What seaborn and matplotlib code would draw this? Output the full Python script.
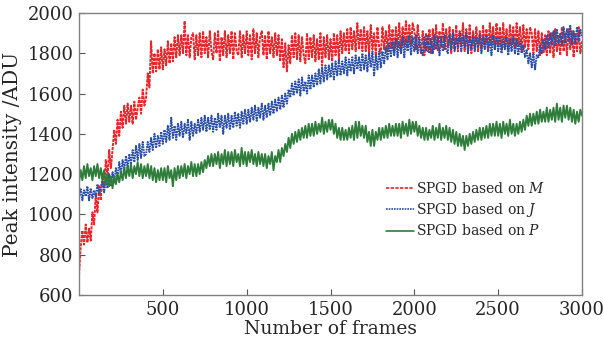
import numpy as np
import pandas as pd
import matplotlib
matplotlib.use("Agg")
import matplotlib.pyplot as plt
import seaborn as sns

frames = list(range(0, 3001, 10))

peak_M = [700, 840, 920, 850, 950, 860, 930, 870, 1010, 950,
          1100, 1010, 1140, 1070, 1200, 1130, 1270, 1180, 1320, 1230,
          1320, 1420, 1350, 1470, 1390, 1510, 1430, 1540, 1450, 1550,
          1460, 1540, 1450, 1560, 1470, 1530, 1580, 1500, 1620, 1540,
          1580, 1700, 1630, 1860, 1700, 1800, 1710, 1820, 1720, 1830,
          1720, 1820, 1740, 1860, 1750, 1850, 1760, 1880, 1780, 1890,
          1790, 1890, 1800, 1960, 1790, 1890, 1780, 1880, 1900, 1770,
          1890, 1790, 1900, 1780, 1910, 1800, 1880, 1780, 1910, 1810,
          1770, 1900, 1800, 1910, 1760, 1880, 1790, 1910, 1780, 1890,
          1800, 1910, 1770, 1900, 1810, 1790, 1910, 1780, 1890, 1800,
          1910, 1790, 1890, 1770, 1920, 1800, 1900, 1780, 1880, 1910,
          1790, 1890, 1770, 1910, 1800, 1880, 1780, 1900, 1790, 1890,
          1760, 1870, 1730, 1850, 1710, 1840, 1750, 1890, 1780, 1900,
          1770, 1890, 1760, 1880, 1790, 1750, 1900, 1770, 1880, 1780,
          1890, 1760, 1870, 1770, 1900, 1740, 1880, 1780, 1890, 1770,
          1870, 1760, 1900, 1790, 1890, 1770, 1910, 1800, 1900, 1810,
          1920, 1800, 1930, 1820, 1910, 1810, 1950, 1820, 1920, 1810,
          1930, 1810, 1910, 1800, 1940, 1820, 1900, 1790, 1930, 1830,
          1800, 1930, 1820, 1910, 1810, 1940, 1830, 1920, 1800, 1930,
          1830, 1950, 1820, 1930, 1840, 1960, 1830, 1940, 1840, 1950,
          1910, 1820, 1940, 1840, 1800, 1910, 1790, 1900, 1810, 1920,
          1800, 1920, 1820, 1940, 1810, 1910, 1830, 1950, 1820, 1920,
          1830, 1930, 1800, 1920, 1820, 1940, 1810, 1910, 1840, 1950,
          1810, 1920, 1820, 1940, 1800, 1910, 1830, 1930, 1810, 1910,
          1820, 1940, 1830, 1920, 1810, 1950, 1840, 1930, 1820, 1950,
          1840, 1930, 1820, 1950, 1830, 1920, 1810, 1940, 1840, 1930,
          1820, 1950, 1840, 1930, 1810, 1940, 1830, 1920, 1820, 1930,
          1900, 1800, 1920, 1810, 1910, 1790, 1900, 1800, 1890, 1790,
          1910, 1800, 1900, 1780, 1920, 1810, 1890, 1790, 1930, 1810,
          1900, 1790, 1920, 1820, 1910, 1780, 1900, 1810, 1930, 1800,
          1860]

peak_J = [1080, 1130, 1070, 1120, 1090, 1140, 1070, 1130, 1080, 1120,
          1090, 1150, 1100, 1140, 1160, 1110, 1180, 1130, 1200, 1140,
          1210, 1160, 1230, 1180, 1260, 1200, 1270, 1220, 1290, 1230,
          1300, 1250, 1320, 1260, 1340, 1270, 1350, 1280, 1360, 1290,
          1300, 1360, 1310, 1380, 1320, 1400, 1330, 1390, 1340, 1410,
          1350, 1420, 1360, 1440, 1370, 1480, 1380, 1440, 1370, 1450,
          1390, 1460, 1380, 1450, 1400, 1470, 1370, 1460, 1390, 1450,
          1400, 1470, 1410, 1480, 1420, 1490, 1410, 1480, 1420, 1490,
          1410, 1480, 1420, 1500, 1430, 1490, 1400, 1490, 1430, 1500,
          1420, 1490, 1430, 1510, 1440, 1500, 1430, 1510, 1450, 1520,
          1450, 1520, 1460, 1530, 1470, 1540, 1460, 1530, 1480, 1550,
          1470, 1540, 1480, 1550, 1490, 1560, 1500, 1570, 1510, 1580,
          1520, 1590, 1530, 1600, 1550, 1620, 1580, 1650, 1590, 1660,
          1600, 1670, 1590, 1680, 1610, 1660, 1600, 1690, 1620, 1690,
          1630, 1700, 1640, 1720, 1650, 1730, 1660, 1740, 1670, 1740,
          1680, 1750, 1670, 1760, 1690, 1770, 1690, 1760, 1700, 1780,
          1690, 1770, 1710, 1780, 1700, 1790, 1720, 1780, 1710, 1800,
          1720, 1790, 1710, 1800, 1730, 1810, 1690, 1790, 1720, 1810,
          1730, 1810, 1750, 1830, 1770, 1850, 1780, 1860, 1790, 1870,
          1780, 1860, 1800, 1880, 1780, 1870, 1810, 1890, 1790, 1880,
          1810, 1890, 1800, 1880, 1820, 1790, 1880, 1810, 1890, 1800,
          1870, 1800, 1890, 1820, 1880, 1790, 1880, 1810, 1890, 1820,
          1800, 1890, 1820, 1900, 1810, 1880, 1830, 1900, 1810, 1890,
          1830, 1900, 1800, 1880, 1820, 1890, 1810, 1880, 1830, 1890,
          1800, 1880, 1820, 1890, 1810, 1880, 1790, 1890, 1820, 1880,
          1810, 1880, 1800, 1870, 1820, 1880, 1790, 1870, 1810, 1880,
          1800, 1870, 1790, 1860, 1800, 1840, 1780, 1820, 1750, 1800,
          1730, 1800, 1720, 1790, 1780, 1840, 1800, 1870, 1820, 1890,
          1830, 1900, 1840, 1910, 1840, 1920, 1850, 1900, 1840, 1930,
          1850, 1920, 1860, 1940, 1840, 1910, 1850, 1930, 1860, 1920,
          1880]

peak_P = [1160, 1220, 1170, 1240, 1180, 1250, 1190, 1230, 1170, 1240,
          1190, 1250, 1180, 1230, 1170, 1220, 1150, 1200, 1140, 1190,
          1130, 1190, 1150, 1200, 1160, 1210, 1170, 1230, 1180, 1240,
          1190, 1250, 1180, 1240, 1200, 1260, 1190, 1250, 1180, 1240,
          1190, 1250, 1180, 1240, 1170, 1230, 1160, 1220, 1170, 1230,
          1170, 1230, 1160, 1240, 1180, 1220, 1140, 1230, 1170, 1240,
          1180, 1240, 1190, 1250, 1180, 1240, 1200, 1260, 1190, 1250,
          1190, 1250, 1200, 1260, 1210, 1270, 1230, 1290, 1240, 1300,
          1240, 1300, 1250, 1310, 1230, 1300, 1250, 1320, 1240, 1310,
          1250, 1310, 1240, 1320, 1260, 1300, 1240, 1330, 1250, 1310,
          1240, 1310, 1260, 1320, 1250, 1300, 1240, 1310, 1250, 1300,
          1240, 1300, 1230, 1290, 1250, 1310, 1220, 1290, 1260, 1320,
          1260, 1330, 1290, 1350, 1310, 1380, 1330, 1400, 1350, 1410,
          1360, 1420, 1370, 1430, 1380, 1440, 1380, 1450, 1390, 1450,
          1390, 1460, 1400, 1450, 1410, 1480, 1400, 1460, 1410, 1470,
          1420, 1470, 1400, 1450, 1380, 1430, 1370, 1430, 1370, 1420,
          1370, 1430, 1380, 1440, 1370, 1460, 1380, 1460, 1390, 1440,
          1380, 1440, 1360, 1410, 1340, 1420, 1340, 1410, 1370, 1430,
          1370, 1430, 1380, 1440, 1380, 1450, 1390, 1440, 1390, 1450,
          1390, 1450, 1380, 1460, 1400, 1450, 1390, 1470, 1400, 1460,
          1410, 1460, 1390, 1440, 1380, 1430, 1370, 1430, 1370, 1420,
          1380, 1440, 1370, 1430, 1380, 1450, 1370, 1430, 1380, 1440,
          1370, 1430, 1360, 1420, 1350, 1410, 1340, 1400, 1340, 1390,
          1320, 1390, 1340, 1400, 1350, 1410, 1360, 1420, 1370, 1430,
          1370, 1430, 1380, 1440, 1380, 1450, 1390, 1450, 1390, 1460,
          1390, 1450, 1380, 1460, 1400, 1450, 1390, 1470, 1400, 1450,
          1390, 1450, 1400, 1460, 1410, 1470, 1420, 1490, 1440, 1500,
          1440, 1500, 1450, 1510, 1450, 1520, 1460, 1510, 1460, 1530,
          1460, 1520, 1470, 1530, 1460, 1550, 1470, 1530, 1460, 1540,
          1480, 1540, 1470, 1530, 1460, 1520, 1450, 1510, 1460, 1520,
          1490]

labels = ["SPGD based on $M$", "SPGD based on $J$", "SPGD based on $P$"]
colors = ["#e8262b", "#2b4ea6", "#2f7d3b"]
styles = [(0, (1.6, 0.5)), (0, (0.9, 0.45)), "-"]
xticks = [500, 1000, 1500, 2000, 2500, 3000]
yticks = [600, 800, 1000, 1200, 1400, 1600, 1800, 2000]

sns.set_theme(style="ticks")
plt.rcParams["font.family"] = ["DejaVu Serif"]
plt.rcParams["mathtext.fontset"] = "dejavuserif"

fig = plt.figure(figsize=(6.04, 3.51), dpi=100)
ax = fig.add_axes([0.1308, 0.1595, 0.8328, 0.8035])

for vals, lab, col, ls in zip([peak_M, peak_J, peak_P], labels, colors, styles):
    df = pd.DataFrame({"frame": frames, "peak": vals})
    sns.lineplot(data=df, x="frame", y="peak", ax=ax, color=col, linewidth=1.4,
                 linestyle=ls, label=lab, sort=False, estimator=None)

ax.set_xlim(0, 3000)
ax.set_ylim(600, 2000)
ax.set_xticks(xticks)
ax.set_yticks(yticks)
ax.tick_params(direction="in", length=4, width=0.8, color="#555555", labelsize=13, pad=4)
for s in ax.spines.values():
    s.set_color("#808080")
    s.set_linewidth(1.0)
ax.set_xlabel("Number of frames", fontsize=13.5, labelpad=1)
ax.set_ylabel("Peak intensity /ADU", fontsize=14.5, labelpad=4)

leg = ax.legend(loc="upper left", bbox_to_anchor=(0.6, 0.425), frameon=False, fontsize=10,
                handlelength=2.0, handletextpad=0.1, labelspacing=0.35, borderaxespad=0)
leg_styles = [(0, (2.0, 0.8)), (0, (1.0, 0.6)), "-"]
for h, st in zip(leg.get_lines(), leg_styles):
    h.set_linewidth(1.2)
    h.set_linestyle(st)

fig.savefig("out.png", dpi=100)
